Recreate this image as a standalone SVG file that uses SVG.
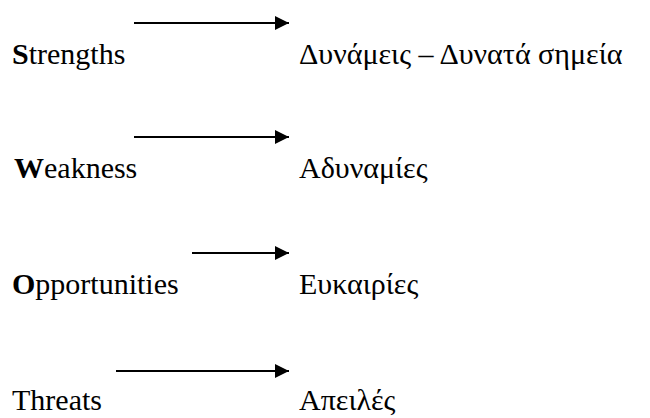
<svg xmlns="http://www.w3.org/2000/svg" width="650" height="418" viewBox="0 0 650 418">
<defs>
<marker id="ah" markerUnits="userSpaceOnUse" markerWidth="16" markerHeight="16" refX="14" refY="7" orient="auto">
<path d="M0,0 L14,7 L0,14 Z" fill="#000"/>
</marker>
</defs>
<rect width="650" height="418" fill="#fff"/>
<g id="connectors" stroke="#000" stroke-width="2.2" fill="none">
<line x1="134" y1="23" x2="289" y2="23" marker-end="url(#ah)"/>
<line x1="134" y1="137" x2="289" y2="137" marker-end="url(#ah)"/>
<line x1="192" y1="253" x2="289" y2="253" marker-end="url(#ah)"/>
<line x1="116" y1="371" x2="289" y2="371" marker-end="url(#ah)"/>
</g>
<g id="strengths"><text x="12" y="64" font-family="Liberation Serif, serif" font-size="30"><tspan font-family="Liberation Serif, serif" font-size="30" font-weight="bold">S</tspan><tspan font-family="Liberation Serif, serif" font-size="30">trengths</tspan></text></g>
<g id="strengths-gr"><text x="299" y="64" font-family="Liberation Serif, serif" font-size="30"><tspan font-family="Liberation Serif, serif" font-size="30">Δυνάμεις – Δυνατά σημεία</tspan></text></g>
<g id="weakness"><text x="14" y="178" font-family="Liberation Serif, serif" font-size="30"><tspan font-family="Liberation Serif, serif" font-size="30" font-weight="bold">W</tspan><tspan font-family="Liberation Serif, serif" font-size="30">eakness</tspan></text></g>
<g id="weakness-gr"><text x="299" y="178" font-family="Liberation Serif, serif" font-size="30"><tspan font-family="Liberation Serif, serif" font-size="30">Αδυναμίες</tspan></text></g>
<g id="opportunities"><text x="12" y="294" font-family="Liberation Serif, serif" font-size="30"><tspan font-family="Liberation Serif, serif" font-size="30" font-weight="bold">O</tspan><tspan font-family="Liberation Serif, serif" font-size="30">pportunities</tspan></text></g>
<g id="opportunities-gr"><text x="299" y="294" font-family="Liberation Serif, serif" font-size="30"><tspan font-family="Liberation Serif, serif" font-size="30">Ευκαιρίες</tspan></text></g>
<g id="threats"><text x="12" y="410" font-family="Liberation Serif, serif" font-size="30"><tspan font-family="Liberation Serif, serif" font-size="30">Threats</tspan></text></g>
<g id="threats-gr"><text x="299" y="410" font-family="Liberation Serif, serif" font-size="30"><tspan font-family="Liberation Serif, serif" font-size="30">Απειλές</tspan></text></g>
</svg>
